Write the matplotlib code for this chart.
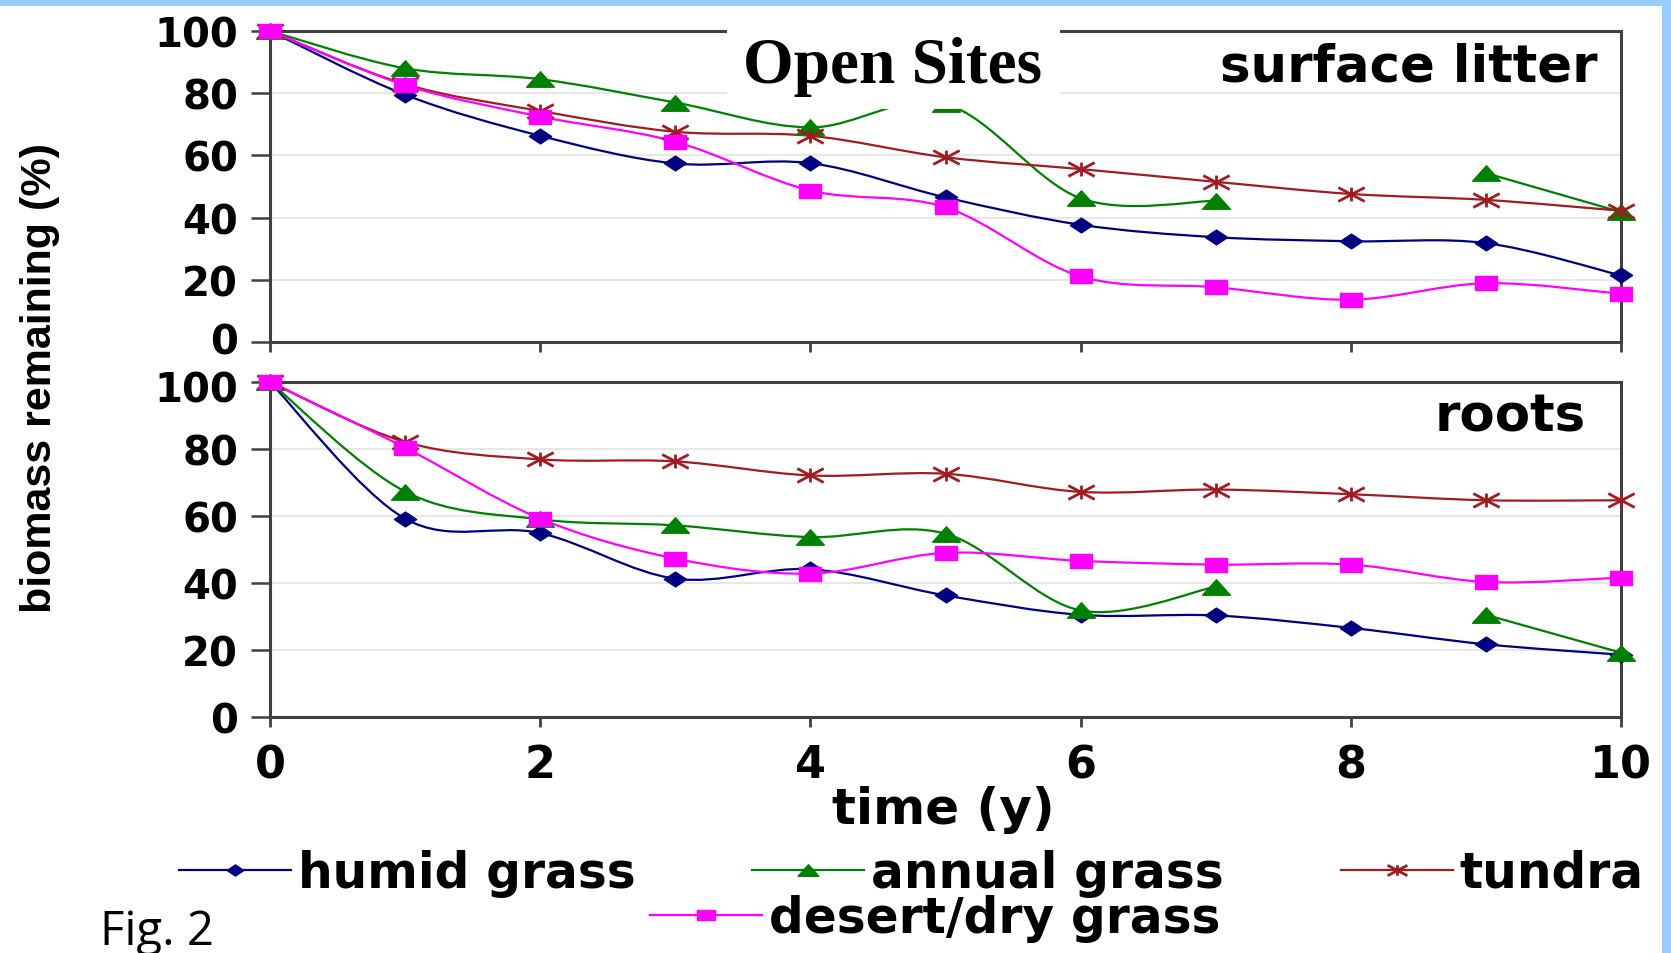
import numpy as np
import matplotlib
matplotlib.use("Agg")
import matplotlib.pyplot as plt
from matplotlib.path import Path
from matplotlib.patches import PathPatch, Rectangle
from matplotlib.lines import Line2D
from matplotlib import font_manager
from matplotlib.transforms import ScaledTranslation

nan = np.nan

# ---- data -----------------------------------------------------------------
years = [0, 1, 2, 3, 4, 5, 6, 7, 8, 9, 10]
series_names = ["humid grass", "annual grass", "tundra", "desert/dry grass"]

litter_humid = [100, 79.5, 66.3, 57.4, 57.5, 46.5, 37.7, 33.7, 32.4, 31.8, 21.4]
litter_annual = [100, 88.0, 84.5, 77.0, 69.0, 76.5, 46.2, 45.4, nan, 54.3, 41.8]
litter_tundra = [100, 82.9, 74.3, 67.6, 66.3, 59.4, 55.6, 51.5, 47.6, 45.7, 42.2]
litter_desert = [100, 82.6, 72.5, 64.4, 48.7, 43.3, 21.1, 17.6, 13.6, 18.9, 15.5]

roots_humid = [100, 59.2, 54.9, 41.3, 44.1, 36.3, 30.5, 30.3, 26.6, 21.7, 18.6]
roots_annual = [100, 67.3, 59.0, 57.2, 53.7, 54.7, 31.8, 38.9, nan, 30.5, 19.2]
roots_tundra = [100, 82.1, 76.9, 76.3, 72.1, 72.6, 67.2, 67.9, 66.5, 64.7, 64.7]
roots_desert = [100, 80.4, 59.2, 47.3, 42.8, 49.0, 46.6, 45.5, 45.5, 40.3, 41.6]

x_ticks = [0, 2, 4, 6, 8, 10]
y_ticks = [0, 20, 40, 60, 80, 100]

# ---- styles ---------------------------------------------------------------
colors = ["#000080", "#008000", "#a01c22", "#ff00ff"]

M, L, C = Path.MOVETO, Path.LINETO, Path.CLOSEPOLY
diamond = Path([(-1.5, 0), (0, 1), (1.5, 0), (0, -1), (-1.5, 0)], [M, L, L, L, C])
triangle = Path([(-1.8, -1), (1.8, -1), (0, 1), (-1.8, -1)], [M, L, L, C])
square = Path([(-1.75, -1), (1.75, -1), (1.75, 1), (-1.75, 1), (-1.75, -1)],
              [M, L, L, L, C])
asterisk = Path([(0, -1), (0, 1), (-1.9, -1), (1.9, 1), (-1.9, 1), (1.9, -1)],
                [M, L, M, L, M, L])
markers = [diamond, triangle, asterisk, square]
marker_sizes = [16, 20, 19, 16.5]
filled = [True, True, False, True]

plt.rcParams["font.family"] = ["DejaVu Sans"]
plt.rcParams["font.weight"] = "bold"

names = {f.name for f in font_manager.fontManager.ttflist}
if "Liberation Sans Narrow" in names:
    ylab_family, ylab_size = "Liberation Sans Narrow", 36
else:
    ylab_family, ylab_size = "Liberation Sans", 31

W, H = 1671, 954
fig = plt.figure(figsize=(W / 100, H / 100), dpi=100)
fig.patch.set_facecolor("white")


def fx(px):
    return px / W


def fy(py):
    return 1 - py / H


ax_top = fig.add_axes([fx(270), fy(343), fx(1621 - 270), (343 - 32) / H])
ax_bot = fig.add_axes([fx(270), fy(718), fx(1621 - 270), (718 - 383) / H])


def smooth_path(xs, ys):
    """Bezier path through the points (Catmull-Rom style), broken at gaps."""
    xs = np.asarray(xs, float)
    ys = np.asarray(ys, float)
    ok = ~np.isnan(ys)
    verts, codes = [], []
    i, n = 0, len(xs)
    while i < n:
        if not ok[i]:
            i += 1
            continue
        j = i
        while j + 1 < n and ok[j + 1]:
            j += 1
        pts = np.column_stack([xs[i:j + 1], ys[i:j + 1]])
        if len(pts) >= 2:
            ext = np.vstack([pts[0], pts, pts[-1]])
            verts.append(pts[0])
            codes.append(Path.MOVETO)
            for k in range(len(pts) - 1):
                p0, p1, p2, p3 = ext[k], ext[k + 1], ext[k + 2], ext[k + 3]
                c1 = p1 + (p2 - p0) / 6.0
                c2 = p2 - (p3 - p1) / 6.0
                verts += [c1, c2, p2]
                codes += [Path.CURVE4] * 3
        i = j + 1
    return Path(verts, codes)


def draw_panel(ax, series):
    for k, ys in enumerate(series):
        col = colors[k]
        ax.add_patch(PathPatch(smooth_path(years, ys), facecolor="none",
                               edgecolor=col, lw=1.6, zorder=2))
        ax.plot(years, ys, ls="none", marker=markers[k], ms=marker_sizes[k],
                mfc=col if filled[k] else "none", mec=col,
                mew=1.0 if filled[k] else 2.0, clip_on=False, zorder=3)
    ax.set_xlim(0, 10)
    ax.set_ylim(0, 100)
    ax.set_xticks(x_ticks)
    ax.set_yticks(y_ticks)
    ax.yaxis.grid(True, color="#e3e3e3", lw=1.2)
    ax.set_axisbelow(True)
    for s in ax.spines.values():
        s.set_color("#404040")
        s.set_linewidth(2.2)
    ax.tick_params(axis="x", direction="out", length=7, width=2,
                   color="#404040", labelsize=32, pad=12)
    ax.tick_params(axis="y", direction="out", length=14, width=1.8,
                   color="#404040", labelsize=29, pad=9)
    for lab in ax.get_xticklabels() + ax.get_yticklabels():
        lab.set_fontweight("bold")


draw_panel(ax_top, [litter_humid, litter_annual, litter_tundra, litter_desert])
draw_panel(ax_bot, [roots_humid, roots_annual, roots_tundra, roots_desert])
ax_top.tick_params(axis="x", labelbottom=False)

# nudge the two labels where the panels meet ("0" above, "100" below)
lab_low = ax_top.yaxis.get_major_ticks(len(y_ticks))[0].label1
lab_low.set_transform(lab_low.get_transform()
                      + ScaledTranslation(0, 0.04, fig.dpi_scale_trans))
lab_high = ax_bot.yaxis.get_major_ticks(len(y_ticks))[-1].label1
lab_high.set_transform(lab_high.get_transform()
                       + ScaledTranslation(0, -0.04, fig.dpi_scale_trans))

# panel captions
ax_top.text((1598 - 270) / 1351, (343 - 82) / 311, "surface litter",
            transform=ax_top.transAxes, ha="right", va="baseline",
            fontsize=37, fontweight="bold", zorder=4)
ax_bot.text((1586 - 270) / 1351, (718 - 432) / 335, "roots",
            transform=ax_bot.transAxes, ha="right", va="baseline",
            fontsize=37, fontweight="bold", zorder=4)

# axis titles
fig.text(fx(40), fy(378), "biomass remaining (%)", rotation=90,
         ha="center", va="center", family=ylab_family, fontweight="bold",
         fontsize=ylab_size)
fig.text(fx(943), fy(810), "time (y)", ha="center", va="center",
         fontsize=36, fontweight="bold")

# title on a white box
fig.patches.append(Rectangle((fx(727), fy(110)), fx(1060 - 727), 102 / H,
                             transform=fig.transFigure, facecolor="white",
                             edgecolor="none", zorder=5))
fig.text(fx(893), fy(67), "Open Sites", ha="center", va="center",
         family="Liberation Serif", fontweight="bold", fontsize=47, zorder=6)

# legend
handles = [Line2D([], [], color=colors[k], lw=1.6, marker=markers[k],
                  ms=marker_sizes[k] * 0.75,
                  mfc=colors[k] if filled[k] else "none", mec=colors[k],
                  mew=1.0 if filled[k] else 2.0) for k in range(4)]
leg_kw = dict(frameon=False, prop={"size": 35, "weight": "bold"},
              handlelength=2.3, handletextpad=0.15, borderpad=0,
              borderaxespad=0, loc="center left")
fig.legend(handles[:3], series_names[:3], ncol=3, columnspacing=2.4,
           bbox_to_anchor=(fx(179), fy(874)), **leg_kw)
fig.legend(handles[3:], series_names[3:], ncol=1,
           bbox_to_anchor=(fx(650), fy(919)), **leg_kw)

fig.text(fx(100), fy(945), "Fig. 2", ha="left", va="baseline",
         family="Open Sans", fontweight="normal", fontsize=34)

# light-blue frame strips
fig.patches.append(Rectangle((0, fy(7)), 1, 7 / H, transform=fig.transFigure,
                             facecolor="#99ccff", edgecolor="none", zorder=7))
fig.patches.append(Rectangle((fx(1662), 0), fx(9), 1, transform=fig.transFigure,
                             facecolor="#99ccff", edgecolor="none", zorder=7))

fig.savefig("out.png", dpi=100, facecolor="white")
